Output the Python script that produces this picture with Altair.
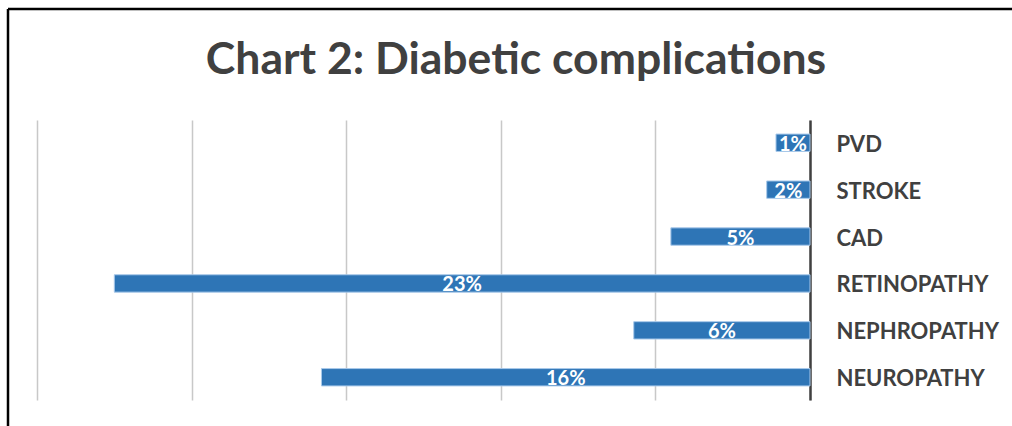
import altair as alt
import pandas as pd

categories = ["PVD", "STROKE", "CAD", "RETINOPATHY", "NEPHROPATHY", "NEUROPATHY"]
values = [1.1, 1.4, 4.5, 22.5, 5.7, 15.8]
labels = ["1%", "2%", "5%", "23%", "6%", "16%"]
title_text = "Chart 2: Diabetic complications"

df = pd.DataFrame({"cat": categories, "val": values, "lab": labels})

FONT = "Lato"
DARK = "#404040"

xscale = alt.Scale(domain=[0, 25], reverse=True)
yenc = alt.Y("cat:N", sort=categories, scale=alt.Scale(paddingInner=0.63, paddingOuter=0.3),
             axis=alt.Axis(orient="right", title=None, ticks=False, labelPadding=26,
                           labelFont=FONT, labelFontSize=22, labelFontWeight="bold",
                           labelColor=DARK, labelAlign="left", labelOffset=2,
                           domainColor=DARK, domainWidth=2.5, grid=False))

base = alt.Chart(df)

bars = base.mark_bar(color="#2E75B6", stroke="#A9C9EA", strokeWidth=1).encode(
    x=alt.X("val:Q", scale=xscale,
            axis=alt.Axis(values=[0, 5, 10, 15, 20, 25], labels=False, ticks=False,
                          domain=False, title=None, grid=True, gridColor="#C8C8C8",
                          gridWidth=1.5)),
    y=yenc,
)

text = base.transform_calculate(mid="datum.val / 2").mark_text(
    color="white", font=FONT, fontSize=20, fontWeight="bold", baseline="middle", dy=2
).encode(
    x=alt.X("mid:Q", scale=xscale),
    y=alt.Y("cat:N", sort=categories),
    text="lab:N",
)

title_df = pd.DataFrame({"t": [title_text]})
title = alt.Chart(title_df).mark_text(
    font=FONT, fontSize=44.5, fontWeight="bold", color=DARK, align="center", baseline="alphabetic"
).encode(x=alt.value(516 - 37), y=alt.value(74 - 120), text="t:N")

frame_df = pd.DataFrame({"k": [0]})
top_border = alt.Chart(frame_df).mark_rule(color="black", strokeWidth=2.5).encode(
    x=alt.value(8 - 37), x2=alt.value(1012 - 37), y=alt.value(9 - 120))
left_border = alt.Chart(frame_df).mark_rule(color="black", strokeWidth=2.5).encode(
    x=alt.value(8 - 37), y=alt.value(9 - 120), y2=alt.value(426 - 120))

chart = alt.layer(bars, text, title, top_border, left_border).properties(
    width=773, height=280,
    autosize=alt.AutoSizeParams(type="none"),
    padding={"left": 37, "top": 120, "right": 202, "bottom": 26},
    background="white",
).configure_view(stroke=None)

chart.save("out.html", embed_options={"renderer": "svg", "actions": False})
